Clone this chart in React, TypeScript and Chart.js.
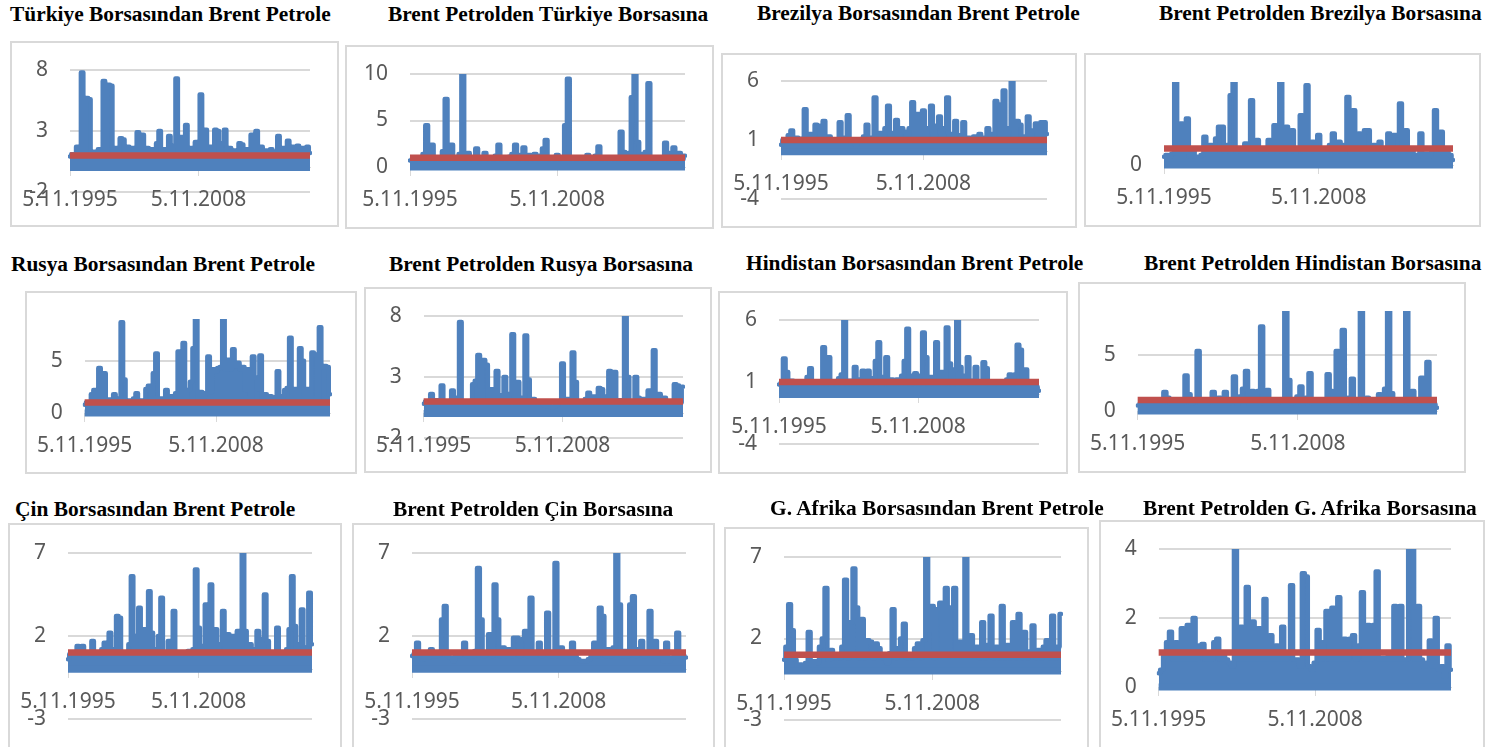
import React, { useEffect, useRef } from "react";
import { Chart, registerables } from "chart.js";

Chart.register(...registerables);

const turkiyeToBrent = [
  .9,1.1,.9,1.7,.9,7.8,.9,5.7,5.6,.9,
  1.3,.9,1.5,.9,7.1,.9,6.8,6.7,.9,1.6,
  .9,2.4,2.3,.9,1.7,.9,1.6,.9,2.9,.9,
  2.7,.9,1.6,.9,1.5,.9,2.0,3.0,.9,1.5,
  .9,2.6,.9,1.8,7.3,.9,2.5,.9,3.5,.9,
  1.6,.9,2.1,.9,6.0,.9,3.1,.9,1.7,.9,
  3.1,3.0,.9,2.0,3.1,.9,1.6,.9,1.4,.9,
  2.0,1.9,.9,1.5,.9,2.7,.9,3.0,.9,1.7,
  .9,1.4,.9,1.5,.9,1.3,2.6,.9,1.6,.9,
  2.2,.9,1.7,.9,1.8,.9,1.6,.9,1.7,1.2,
];
const brentToTurkiye = [
  .7,.8,.85,.9,.85,1.4,4.5,.85,2.4,.85,
  1.0,.85,1.7,7.3,.85,2.4,.85,1.0,1.4,11.5,
  .85,1.5,.85,1.0,2.0,.85,.9,1.5,.85,1.0,
  .85,1.2,2.4,.85,.9,.85,1.1,1.4,2.4,.85,
  1.3,2.1,.85,1.3,.85,1.4,.85,1.2,2.0,2.9,
  .85,.9,.85,1.3,.85,1.0,4.5,9.5,.85,1.0,
  .85,.9,.85,1.0,1.3,.85,.9,1.2,2.2,.85,
  .9,.85,.8,.85,1.0,.85,3.8,1.6,.85,1.5,
  7.5,12,2.7,.85,1.4,1.6,9.0,.85,1.0,.85,
  .9,.85,2.6,.85,1.5,2.1,.85,1.5,.85,1.2,
];
const brezilyaToBrent = [
  .6,1.0,.9,1.4,1.8,.9,1.2,.9,1.1,3.6,
  .9,1.5,.9,2.3,2.2,.9,2.6,.9,1.3,.9,
  1.0,.9,2.5,.9,1.2,3.1,.9,.9,.6,1.0,
  .9,1.3,2.3,.9,1.2,4.6,.9,1.6,.9,2.0,
  3.9,.9,1.6,2.7,.9,2.0,1.7,.9,2.0,4.2,
  .9,3.2,.9,3.5,.9,2.0,3.9,.9,2.2,3.0,
  .9,2.0,4.6,.9,1.5,2.6,.9,1.4,2.5,.9,
  1.2,.9,1.3,.9,1.5,.9,1.2,2.0,.9,1.5,
  4.3,4.0,.9,5.2,.9,2.0,6.5,.9,2.6,2.3,
  .9,1.3,3.0,.9,1.8,2.4,.9,2.5,2.5,1.5,
];
const brentToBrezilya = [
  .5,.6,.5,.7,5.6,.8,2.5,.8,2.8,.5,
  1.0,.5,.5,.6,1.7,.8,1.2,.8,1.6,2.3,
  2.3,.8,1.2,4.2,5.8,.8,1.0,.8,1.3,.8,
  3.9,.8,1.5,.8,1.0,.8,1.5,.8,2.4,.8,
  5.8,.8,2.3,.8,2.1,.8,1.0,3.0,.8,4.8,
  .8,1.4,.8,1.8,.8,.8,.8,1.2,1.9,.8,
  1.4,.8,1.2,4.1,.8,3.3,.8,1.9,.8,2.1,
  2.1,.8,1.2,.8,1.4,.8,.8,1.9,.8,1.8,
  1.8,3.7,.8,2.1,.8,1.0,.5,.6,1.9,.5,
  .7,.5,1.0,3.3,.8,2.0,.7,.8,.6,.3,
];
const rusyaToBrent = [
  .8,1.0,.9,1.8,2.2,.9,4.3,.9,3.8,.9,
  1.3,.9,1.8,.9,1.4,8.7,3.2,.9,1.2,.9,
  1.4,1.9,.9,1.2,.9,2.3,2.6,.9,3.8,5.7,
  .9,1.4,.9,2.2,.9,1.6,.9,1.9,5.9,.9,
  6.7,.9,2.2,3.0,6.2,9.0,.9,2.0,1.6,1.9,
  5.4,2.0,4.2,4.0,4.3,4.4,9.6,4.2,5.1,4.2,
  6.1,4.5,4.8,4.2,4.4,2.2,4.2,1.0,5.4,3.4,
  2.3,5.5,.9,1.8,.9,1.6,.9,1.5,4.0,.9,
  1.6,2.2,2.4,7.2,.9,2.3,.9,6.2,5.0,.9,
  2.3,.9,5.8,5.6,.9,8.2,4.4,4.5,4.4,1.8,
];
const brentToRusya = [
  .8,1.0,.9,1.6,.9,1.1,.9,2.3,.9,1.0,
  .9,1.9,.9,1.3,7.5,.9,1.0,.9,1.0,2.4,
  2.7,4.8,2.2,4.4,4.0,.9,2.0,.9,3.5,.9,
  1.5,3.0,.9,1.6,6.5,.9,2.6,.9,1.3,6.4,
  2.8,.9,1.2,.9,1.0,.9,.7,.6,.7,.5,
  .6,.7,1.0,4.1,.9,1.2,.9,5.0,2.6,.9,
  1.0,.9,1.2,1.7,.9,1.4,.9,2.1,2.0,.9,
  1.4,3.5,.9,3.4,.9,1.1,.9,8.6,3.0,.9,
  1.0,3.0,1.3,.9,1.2,.9,1.9,.9,5.2,.9,
  1.6,.9,1.3,.9,1.0,.9,2.4,2.3,.9,2.2,
];
const hindistanToBrent = [
  .8,.9,2.9,1.8,.8,1.1,.8,.9,.8,1.0,
  .8,1.4,2.1,.8,1.0,.8,.9,3.8,.8,3.0,
  .8,1.0,.8,1.3,1.6,6.6,.8,1.1,.8,2.2,
  .8,1.2,1.9,.8,1.9,.8,1.3,2.7,4.2,.8,
  1.4,3.0,.8,1.2,.8,1.2,.8,1.5,2.7,5.3,
  .8,1.5,1.7,.8,1.5,5.0,3.0,.8,1.4,.8,
  4.2,.8,1.8,.8,5.4,2.5,.8,2.0,6.6,2.2,
  .8,1.5,3.0,.8,1.1,2.2,.8,1.0,2.6,2.1,
  .8,1.0,.8,.9,.8,1.0,.8,1.2,1.6,.8,
  1.6,4.0,3.6,.8,2.0,.8,1.0,.7,.6,.3,
];
const brentToHindistan = [
  .5,.6,.7,.8,.7,.9,.7,.7,.7,1.7,
  1.2,.7,.9,.7,1.0,.7,3.2,1.5,.7,1.0,
  5.4,.7,.9,.7,.9,1.7,.7,1.2,.7,1.7,
  .7,1.0,3.1,.7,1.3,2.0,3.6,.7,1.8,.7,
  1.8,7.6,.7,1.9,.7,1.0,.7,.8,1.0,10,
  2.8,.7,1.0,1.3,2.2,.7,1.2,3.4,.7,.9,
  .7,1.0,.7,3.3,1.8,.7,5.4,.7,7.3,.7,
  1.2,2.9,.7,1.0,10,.7,1.2,.7,.9,.7,
  1.5,.7,2.0,10,1.6,.7,1.0,.7,.9,10,
  .7,1.8,.7,1.0,3.0,.7,4.4,.7,.6,.3,
];
const cinToBrent = [
  .6,.9,.9,1.0,1.4,.9,1.4,.9,1.0,.9,
  1.7,.9,.8,.9,1.2,1.6,.9,2.2,.9,1.2,
  3.2,3.1,.9,1.0,.9,1.5,5.6,.9,2.0,3.7,
  .9,2.4,.9,4.7,2.2,.9,1.2,2.0,4.3,.9,
  1.0,1.7,.9,3.5,.9,.9,.9,1.0,.9,1.1,
  .9,1.2,6.0,2.5,.9,1.4,3.9,.9,5.1,.9,
  2.4,.9,1.5,3.5,.9,2.1,.9,2.0,.9,2.3,
  .9,7.3,2.3,.9,1.5,.9,1.2,2.3,.9,1.8,
  4.5,1.7,.9,1.0,.9,2.5,.9,.9,.9,1.2,
  2.4,5.6,2.6,.9,1.5,3.6,.9,1.3,4.6,1.5,
];
const brentToCin = [
  .8,.9,1.6,.8,.6,.8,.7,1.2,.8,.8,
  .9,3.0,3.8,.8,.7,.5,.9,.8,1.0,1.6,
  .8,.9,.8,1.1,6.1,3.0,.8,1.0,2.1,.8,
  5.1,3.0,.8,1.3,.8,1.2,.8,1.9,1.9,.8,
  1.8,2.3,.8,4.3,.8,1.0,1.6,.8,1.0,3.4,
  .8,.8,6.4,.8,1.3,.8,1.0,.8,1.6,.8,
  .6,.5,.5,.5,.6,.8,1.6,.8,3.7,3.2,
  .8,1.2,.8,1.3,7.2,3.9,.8,1.1,.8,3.9,
  4.4,.8,1.2,1.7,.8,1.0,3.5,.8,1.7,.8,
  1.0,.5,1.6,.5,.7,.8,2.2,.8,.8,.7,
];
const afrikaToBrent = [
  .7,1.5,4.1,2.5,.7,.3,.4,.3,.5,2.4,
  .3,.6,.5,1.5,2.0,5.1,.7,1.3,.8,.9,
  .8,1.5,5.6,.8,3.0,6.3,3.9,.8,3.2,.8,
  1.9,1.8,.8,1.7,1.4,.8,1.0,.5,1.1,3.8,
  .8,1.4,2.0,2.9,.8,1.0,.8,1.4,1.7,.8,
  1.9,7.5,2.5,4.0,.8,3.8,4.2,.9,5.1,.9,
  3.9,5.1,.9,1.8,.9,7.5,.9,2.2,.9,1.5,
  .8,3.0,.8,1.6,3.4,.8,1.5,.8,4.0,.8,
  1.6,.8,3.0,.8,3.5,.8,2.4,.8,1.2,2.8,
  .8,1.3,.8,1.5,1.9,.8,3.4,.8,1.5,3.5,
];
const brentToAfrika = [
  .4,.5,.9,1.3,1.6,.8,1.3,.8,1.7,.8,
  1.8,.8,2.0,.8,1.2,1.25,.8,.9,.8,1.3,
  1.4,.8,.9,.8,.7,.6,4.4,.8,1.75,.8,
  2.9,.8,1.9,.8,1.7,.8,2.55,.8,1.5,.8,
  1.2,.8,1.75,.8,1.0,2.95,.8,.8,.6,3.3,
  3.2,.6,.5,.7,1.65,.8,1.3,2.2,.8,2.3,
  .8,2.6,.8,1.4,.8,1.4,1.5,.8,1.2,2.75,
  .8,1.8,.8,1.8,3.35,.8,.85,.8,.9,.8,
  2.35,.8,2.35,.8,.8,4.4,4.4,.8,2.35,.8,
  .6,.7,1.35,.6,2.0,.5,.6,.3,1.2,.5,
];

const referenceLevel = [1, 1];
const bandFloor = [0, 0];
const dateTicks = ["5.11.1995", "5.11.2008"];
const dateTickIndex = [0, 53];

const titles = [
  "Türkiye Borsasından Brent Petrole", "Brent Petrolden Türkiye Borsasına",
  "Brezilya Borsasından Brent Petrole", "Brent Petrolden Brezilya Borsasına",
  "Rusya Borsasından Brent Petrole", "Brent Petrolden Rusya Borsasına",
  "Hindistan Borsasından Brent Petrole", "Brent Petrolden Hindistan Borsasına",
  "Çin Borsasından Brent Petrole", "Brent Petrolden Çin Borsasına",
  "G. Afrika Borsasından Brent Petrole", "Brent Petrolden G. Afrika Borsasına",
];
const series = [
  turkiyeToBrent, brentToTurkiye, brezilyaToBrent, brentToBrezilya,
  rusyaToBrent, brentToRusya, hindistanToBrent, brentToHindistan,
  cinToBrent, brentToCin, afrikaToBrent, brentToAfrika,
];
const yTicks = [
  [-2, 3, 8], [0, 5, 10], [-4, 1, 6], [0],
  [0, 5], [-2, 3, 8], [-4, 1, 6], [0, 5],
  [-3, 2, 7], [-3, 2, 7], [-3, 2, 7], [0, 2, 4],
];
const yRanges = [
  [-2, 8], [0, 10], [-4, 6], [0, 5],
  [0, 9], [-2, 8], [-4, 6], [0, 9],
  [-3, 7], [-3, 7], [-3, 7], [0, 4],
];
// [left, top, right, bottom] of the framed box
const boxes = [
  [10, 41, 339, 227], [345, 45, 714, 229], [721, 53, 1077, 228], [1084, 53, 1481, 227],
  [25, 291, 357, 474], [364, 287, 712, 473], [718, 291, 1068, 474], [1078, 282, 1466, 473],
  [8, 523, 342, 770], [352, 523, 715, 770], [724, 527, 1089, 770], [1099, 520, 1485, 770],
];
// [x0, x1, yTop, yBottom] of the plot area
const plots = [
  [70, 310, 70, 192], [410, 685, 74, 167], [781, 1047, 81, 199], [1164, 1453, 82, 165],
  [77, 330, 319, 413], [423, 683, 316, 438], [779, 1039, 320, 444], [1129, 1437, 311, 411],
  [68, 312, 553, 719], [412, 686, 553, 719], [784, 1061, 557, 720], [1151, 1451, 549, 687],
];
// [left, center y] of each heading
const titlePlaces = [
  [10, 14], [388, 14], [757, 13], [1159, 13],
  [11, 264], [389, 264], [746, 263], [1144, 263],
  [15, 509], [393, 509], [770, 508], [1143, 508],
];

const BLUE = "#4F81BD";
const RED = "#C0504D";
const GRID = "#D9D9D9";
const INK = "#595959";
const AXIS_FONT = { family: "'Noto Sans', sans-serif", size: 21 };

function Panel({ index }: { index: number }) {
  const ref = useRef<HTMLCanvasElement>(null);
  const [l, t, r, b] = boxes[index];
  const [x0, x1, yt, yb] = plots[index];
  useEffect(() => {
    const values = series[index];
    const last = values.length - 1;
    const [yMin, yMax] = yRanges[index];
    const chart = new Chart(ref.current!, {
      type: "line",
      data: {
        datasets: [
          {
            data: referenceLevel.map((y, i) => ({ x: i * last, y })),
            borderColor: RED,
            borderWidth: 6.5,
            pointRadius: 0,
            clip: false as any,
          },
          {
            data: bandFloor.map((y, i) => ({ x: i * last, y })),
            borderColor: BLUE,
            borderWidth: 7,
            pointRadius: 0,
            clip: false as any,
          },
          {
            data: values.map((v, x) => ({ x, y: v })),
            borderColor: BLUE,
            backgroundColor: BLUE,
            borderWidth: 4.5,
            borderJoinStyle: "round",
            borderCapStyle: "round",
            stepped: "middle",
            fill: { target: { value: 0 } },
            pointRadius: 0,
            clip: { left: 2, right: 2, top: 0, bottom: 6 } as any,
          },
        ],
      },
      options: {
        animation: false,
        responsive: false,
        events: [],
        layout: { padding: { left: 0, top: yt - t, right: r - x1, bottom: b - yb } },
        plugins: { legend: { display: false }, tooltip: { enabled: false } },
        scales: {
          x: {
            type: "linear",
            min: 0,
            max: last,
            position: { y: 0 } as any,
            afterBuildTicks: (s: any) => {
              s.ticks = dateTickIndex.map((value) => ({ value }));
            },
            grid: { drawOnChartArea: false, drawTicks: true, tickLength: 8, color: GRID },
            border: { color: GRID },
            ticks: {
              autoSkip: false,
              maxRotation: 0,
              minRotation: 0,
              padding: 12,
              color: INK,
              font: AXIS_FONT,
              callback: (v: any) => dateTicks[dateTickIndex.indexOf(Number(v))],
            },
          },
          y: {
            min: yMin,
            max: yMax,
            afterBuildTicks: (s: any) => {
              s.ticks = yTicks[index].map((value) => ({ value }));
            },
            afterFit: (s: any) => {
              s.width = x0 - l;
              // Large tick labels must not push the plot area away from its frame position.
              s.paddingTop = 0;
              s.paddingBottom = 0;
            },
            grid: { drawTicks: false, color: GRID, lineWidth: 2 },
            border: { display: false },
            ticks: { padding: 22, color: INK, font: AXIS_FONT, callback: (v: any) => String(v) },
          },
        },
      },
    });
    return () => chart.destroy();
  }, [index]);
  return (
    <div style={{ position: "absolute", left: l, top: t, width: r - l, height: b - t }}>
      <div
        style={{
          position: "absolute",
          inset: 0,
          boxSizing: "border-box",
          border: `2px solid ${GRID}`,
          background: "#fff",
        }}
      />
      <canvas
        ref={ref}
        width={r - l}
        height={b - t}
        style={{ position: "absolute", left: 0, top: 0, display: "block" }}
      />
    </div>
  );
}

export default function App() {
  return (
    <div style={{ position: "fixed", inset: 0, overflow: "hidden", background: "#fff" }}>
      {titles.map((_, i) => (
        <Panel key={i} index={i} />
      ))}
      {titles.map((title, i) => (
        <div
          key={title}
          style={{
            position: "absolute",
            left: titlePlaces[i][0],
            top: titlePlaces[i][1] - 12,
            lineHeight: "24px",
            whiteSpace: "nowrap",
            color: "#000",
            font: "bold 21.4px 'Liberation Serif', serif",
          }}
        >
          {title}
        </div>
      ))}
    </div>
  );
}
